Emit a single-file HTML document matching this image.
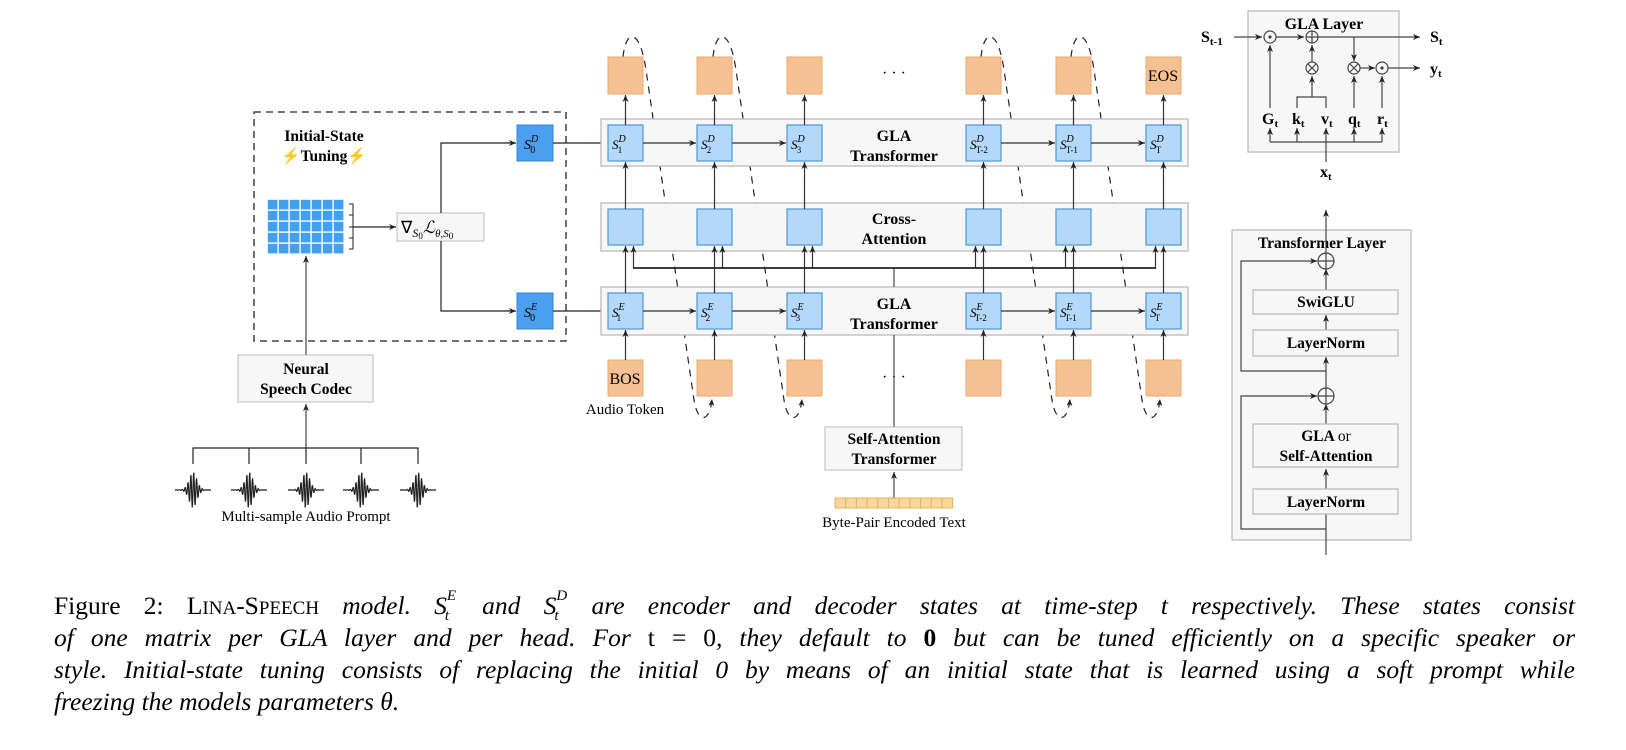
<!DOCTYPE html>
<html><head><meta charset="utf-8"><style>
body{margin:0;background:#fff;width:1626px;height:750px;overflow:hidden;position:relative}
svg{position:absolute;left:0;top:0}
.cap{position:absolute;left:54px;width:1521px;font-family:"Liberation Serif",serif;font-size:25.5px;line-height:32px;white-space:nowrap}
.cap div{text-align:justify;text-align-last:justify;height:32px;overflow:visible}
.cap div.last{text-align-last:left}
i{font-style:italic}
.sc{font-size:19px}
.ss{position:relative;display:inline-block;line-height:0}
.ss .u{position:absolute;left:100%;top:-10px;font-size:15px;margin-left:0px}
.ss .d{position:absolute;left:100%;top:10px;font-size:15px;margin-left:-2px}
.pad{display:inline-block;width:12px}
</style></head><body>
<svg width="1626" height="750" viewBox="0 0 1626 750" font-family="Liberation Serif, serif">
<defs>
<marker id="a" markerWidth="8" markerHeight="8" refX="7" refY="4" orient="auto" markerUnits="userSpaceOnUse"><path d="M0,1 L7,4 L0,7 L2,4z" fill="#222"/></marker>
</defs>
<g fill="none" stroke="#222" stroke-width="1.2" stroke-dasharray="7,6">
<path d="M623,57 C626,28 640,28 646,70 L694,400 C698,425 710,422 712,399" marker-end="url(#a)"/>
<path d="M713,57 C716,28 730,28 736,70 L784,400 C788,425 800,422 802,399" marker-end="url(#a)"/>
<path d="M981,57 C984,28 998,28 1004,70 L1052,400 C1056,425 1068,422 1070,399" marker-end="url(#a)"/>
<path d="M1071,57 C1074,28 1088,28 1094,70 L1142,400 C1146,425 1158,422 1160,399" marker-end="url(#a)"/>
</g>
<rect x="254" y="112" width="312" height="229" fill="none" stroke="#222" stroke-width="1.3" stroke-dasharray="7,5"/>
<text x="324" y="141" text-anchor="middle" font-size="15.5" font-weight="bold">Initial-State</text>
<text x="324" y="161" text-anchor="middle" font-size="15.5" font-weight="bold"><tspan fill="#f0a020">⚡</tspan>Tuning<tspan fill="#f0a020">⚡</tspan></text>
<rect x="267" y="199" width="77" height="55" fill="#fff"/>
<g fill="#42a0f0" id="grid"></g>
<path d="M349,204 H353 V249 H349 M349,215 H353 M349,227 H353 M349,238 H353" fill="none" stroke="#222" stroke-width="1"/>
<line x1="353" y1="227" x2="396" y2="227" stroke="#222" stroke-width="1.2" marker-end="url(#a)"/>
<rect x="397" y="213" width="87" height="28" fill="#f7f7f7" stroke="#bbb"/>
<text x="401" y="233" font-size="17">∇<tspan font-style="italic" font-size="12" dy="4">S</tspan><tspan font-size="9" dy="2">0</tspan><tspan font-size="17" dy="-6" font-style="italic">ℒ</tspan><tspan font-size="11" dy="4" font-style="italic">θ,S</tspan><tspan font-size="9" dy="2">0</tspan></text>
<path d="M441,213 V143 H516" fill="none" stroke="#222" stroke-width="1.2" marker-end="url(#a)"/>
<path d="M441,241 V311 H516" fill="none" stroke="#222" stroke-width="1.2" marker-end="url(#a)"/>
<rect x="517" y="125" width="36" height="36" fill="#4aa0ee" stroke="#2f86d6"/>
<rect x="517" y="293" width="36" height="36" fill="#4aa0ee" stroke="#2f86d6"/>
<text x="524" y="149" font-size="14" font-style="italic">S<tspan font-size="10" dy="-7">D</tspan><tspan font-size="10" dx="-8" dy="11" font-style="normal">0</tspan></text>
<text x="524" y="317" font-size="14" font-style="italic">S<tspan font-size="10" dy="-7">E</tspan><tspan font-size="10" dx="-7" dy="11" font-style="normal">0</tspan></text>
<line x1="553" y1="143" x2="607" y2="143" stroke="#222" stroke-width="1.2" marker-end="url(#a)"/>
<line x1="553" y1="311" x2="607" y2="311" stroke="#222" stroke-width="1.2" marker-end="url(#a)"/>
<line x1="306" y1="355" x2="306" y2="256" stroke="#444" stroke-width="1.2" marker-end="url(#a)"/>
<rect x="238" y="355" width="135" height="47" fill="#f7f7f7" stroke="#bbb"/>
<text x="306" y="374" text-anchor="middle" font-size="15.5" font-weight="bold">Neural</text>
<text x="306" y="394" text-anchor="middle" font-size="15.5" font-weight="bold">Speech Codec</text>
<line x1="306" y1="448" x2="306" y2="404" stroke="#444" stroke-width="1.2" marker-end="url(#a)"/>
<path d="M193,464 V448 H418 V464 M249,448 V464 M361,448 V464 M306,448 V464" fill="none" stroke="#222" stroke-width="1.2"/>
<g fill="none" stroke="#222" stroke-width="1.2" id="waves"></g>
<text x="306" y="521" text-anchor="middle" font-size="15">Multi-sample Audio Prompt</text>
<rect x="601" y="119" width="587" height="47" fill="#f7f7f7" stroke="#bbb" stroke-width="1.3"/>
<rect x="601" y="203" width="587" height="48" fill="#f7f7f7" stroke="#bbb" stroke-width="1.3"/>
<rect x="601" y="287" width="587" height="48" fill="#f7f7f7" stroke="#bbb" stroke-width="1.3"/>
<g font-size="16" font-weight="bold" text-anchor="middle">
<text x="894" y="141">GLA</text><text x="894" y="161">Transformer</text>
<text x="894" y="224">Cross-</text><text x="894" y="244">Attention</text>
<text x="894" y="309">GLA</text><text x="894" y="329">Transformer</text>
</g>
<text x="894" y="78" text-anchor="middle" font-size="16">· · ·</text>
<text x="894" y="382" text-anchor="middle" font-size="16">· · ·</text>
<g id="cols"></g>
<line x1="894" y1="287" x2="894" y2="268" stroke="#444" stroke-width="1.2"/>
<line x1="633" y1="268" x2="1156" y2="268" stroke="#222" stroke-width="1.8"/>
<line x1="894" y1="335" x2="894" y2="427" stroke="#444" stroke-width="1.2"/>
<rect x="825" y="427" width="137" height="43" fill="#f7f7f7" stroke="#bbb"/>
<text x="894" y="444" text-anchor="middle" font-size="15.5" font-weight="bold">Self-Attention</text>
<text x="894" y="464" text-anchor="middle" font-size="15.5" font-weight="bold">Transformer</text>
<line x1="894" y1="498" x2="894" y2="472" stroke="#444" stroke-width="1.2" marker-end="url(#a)"/>
<g id="bpe"></g>
<text x="894" y="527" text-anchor="middle" font-size="15">Byte-Pair Encoded Text</text>
<text x="625" y="414" text-anchor="middle" font-size="15">Audio Token</text>
<rect x="1248" y="11" width="151" height="141" fill="#f7f7f7" stroke="#bbb" stroke-width="1.3"/>
<g font-weight="bold" font-size="16">
<text x="1324" y="29" text-anchor="middle">GLA Layer</text>
<text x="1201" y="42">S<tspan font-size="11" dy="3">t-1</tspan></text>
<text x="1430" y="42">S<tspan font-size="11" dy="3">t</tspan></text>
<text x="1430" y="74">y<tspan font-size="11" dy="3">t</tspan></text>
<text x="1262" y="124">G<tspan font-size="11" dy="3">t</tspan></text>
<text x="1292" y="124">k<tspan font-size="11" dy="3">t</tspan></text>
<text x="1321" y="124">v<tspan font-size="11" dy="3">t</tspan></text>
<text x="1348" y="124">q<tspan font-size="11" dy="3">t</tspan></text>
<text x="1377" y="124">r<tspan font-size="11" dy="3">t</tspan></text>
<text x="1320" y="177">x<tspan font-size="11" dy="3">t</tspan></text>
</g>
<g stroke="#444" stroke-width="1.2" fill="none">
<line x1="1234" y1="37" x2="1262" y2="37" marker-end="url(#a)"/>
<line x1="1276" y1="37" x2="1304" y2="37" marker-end="url(#a)"/>
<line x1="1318" y1="37" x2="1420" y2="37" marker-end="url(#a)"/>
<line x1="1354" y1="37" x2="1354" y2="61" marker-end="url(#a)"/>
<line x1="1360" y1="68" x2="1375" y2="68" marker-end="url(#a)"/>
<line x1="1388" y1="68" x2="1420" y2="68" marker-end="url(#a)"/>
<line x1="1312" y1="62" x2="1312" y2="45" marker-end="url(#a)"/>
<line x1="1270" y1="108" x2="1270" y2="45" marker-end="url(#a)"/>
<path d="M1297,108 V97 H1326 V108 M1312,97 V76" marker-end="url(#a)"/>
<line x1="1354" y1="108" x2="1354" y2="76" marker-end="url(#a)"/>
<line x1="1382" y1="108" x2="1382" y2="76" marker-end="url(#a)"/>
<path d="M1326,162 V142"/>
<path d="M1270,142 H1382"/>
<line x1="1270" y1="142" x2="1270" y2="128" marker-end="url(#a)"/>
<line x1="1297" y1="142" x2="1297" y2="128" marker-end="url(#a)"/>
<line x1="1326" y1="142" x2="1326" y2="128" marker-end="url(#a)"/>
<line x1="1354" y1="142" x2="1354" y2="128" marker-end="url(#a)"/>
<line x1="1382" y1="142" x2="1382" y2="128" marker-end="url(#a)"/>
<circle cx="1270" cy="37" r="6" fill="#f7f7f7"/><circle cx="1270" cy="37" r="1" fill="#444"/>
<circle cx="1312" cy="37" r="6" fill="#f7f7f7"/><path d="M1306,37 H1318 M1312,31 V43"/>
<circle cx="1312" cy="68" r="6" fill="#f7f7f7"/><path d="M1308,64 L1316,72 M1316,64 L1308,72"/>
<circle cx="1354" cy="68" r="6" fill="#f7f7f7"/><path d="M1350,64 L1358,72 M1358,64 L1350,72"/>
<circle cx="1382" cy="68" r="6" fill="#f7f7f7"/><circle cx="1382" cy="68" r="1" fill="#444"/>
</g>
<rect x="1232" y="230" width="179" height="310" fill="#f7f7f7" stroke="#bbb" stroke-width="1.3"/>
<text x="1322" y="248" text-anchor="middle" font-size="15.5" font-weight="bold">Transformer Layer</text>
<g stroke="#444" stroke-width="1.2" fill="none">
<line x1="1326" y1="555" x2="1326" y2="514"/>
<line x1="1326" y1="489" x2="1326" y2="469" marker-end="url(#a)"/>
<line x1="1326" y1="424" x2="1326" y2="404" marker-end="url(#a)"/>
<line x1="1326" y1="388" x2="1326" y2="357" marker-end="url(#a)"/>
<line x1="1326" y1="330" x2="1326" y2="315" marker-end="url(#a)"/>
<line x1="1326" y1="290" x2="1326" y2="269" marker-end="url(#a)"/>
<line x1="1326" y1="253" x2="1326" y2="210" marker-end="url(#a)"/>
<path d="M1326,529 H1241 V396 H1317" marker-end="url(#a)"/>
<path d="M1326,371 H1241 V261 H1317" marker-end="url(#a)"/>
<circle cx="1326" cy="261" r="8" fill="#f7f7f7"/><path d="M1318,261 H1334 M1326,253 V269"/>
<circle cx="1326" cy="396" r="8" fill="#f7f7f7"/><path d="M1318,396 H1334 M1326,388 V404"/>
</g>
<g fill="#f7f7f7" stroke="#bbb" stroke-width="1.3">
<rect x="1253" y="290" width="145" height="24"/>
<rect x="1253" y="330" width="145" height="26"/>
<rect x="1253" y="424" width="145" height="43"/>
<rect x="1253" y="489" width="145" height="25"/>
</g>
<g font-size="15.5" font-weight="bold" text-anchor="middle">
<text x="1326" y="307">SwiGLU</text>
<text x="1326" y="348">LayerNorm</text>
<text x="1326" y="441">GLA <tspan font-weight="normal">or</tspan></text>
<text x="1326" y="461">Self-Attention</text>
<text x="1326" y="507">LayerNorm</text>
</g>
</svg>
<div class="cap" style="top:590px">
<div>Figure 2: L<span class="sc">INA</span>-S<span class="sc">PEECH</span> <i>model. <span class="ss">S<span class="u">E</span><span class="d">t</span></span><span class="pad"></span> and <span class="ss">S<span class="u">D</span><span class="d">t</span></span><span class="pad"></span> are encoder and decoder states at time-step t respectively. These states consist</i></div>
<div><i>of one matrix per GLA layer and per head. For </i>t = 0<i>, they default to </i><b>0</b><i> but can be tuned efficiently on a specific speaker or</i></div>
<div><i>style. Initial-state tuning consists of replacing the initial 0 by means of an initial state that is learned using a soft prompt while</i></div>
<div class="last"><i>freezing the models parameters θ.</i></div>
</div>
<script>
var NS="http://www.w3.org/2000/svg";
function el(p,t,a,txt){var e=document.createElementNS(NS,t);for(var k in a)e.setAttribute(k,a[k]);if(txt!==undefined)e.textContent=txt;p.appendChild(e);return e;}
var g=document.getElementById('grid');
for(var r=0;r<5;r++)for(var c=0;c<7;c++)el(g,'rect',{x:267+c*11+0.8,y:199+r*11+0.8,width:9.6,height:9.6});
var w=document.getElementById('waves');
[193,249,306,361,418].forEach(function(cx){var d="";for(var i=0;i<=90;i++){var t=-18+i*0.4;var amp=17*Math.exp(-t*t/30)+1.2*Math.exp(-Math.abs(t)/6);var y=490-amp*Math.sin(t*2.2);d+=(i?" L":"M")+(cx+t).toFixed(1)+","+y.toFixed(1);}el(w,'path',{d:d});});
var b=document.getElementById('bpe');
for(var i=0;i<11;i++)el(b,'rect',{x:835+i*10.7,y:498,width:10.7,height:10,fill:'#fbd89a',stroke:'#e2b35a','stroke-width':1});
var cols=document.getElementById('cols');
var L=[608,697,787,966,1056,1146],subs=['1','2','3','T-2','T-1','T'];
function arrow(x1,y1,x2,y2){el(cols,'line',{x1:x1,y1:y1,x2:x2,y2:y2,stroke:'#333','stroke-width':1.2,'marker-end':'url(#a)'});}
L.forEach(function(l,i){var c=l+17.5;
 el(cols,'rect',{x:l,y:57,width:35,height:37,fill:'#f5c193',stroke:'#eaa96e'});
 el(cols,'rect',{x:l,y:360,width:35,height:36,fill:'#f5c193',stroke:'#eaa96e'});
 [125,209,293].forEach(function(y){el(cols,'rect',{x:l,y:y,width:35,height:36,fill:'#b3d8fa',stroke:'#4a9ad8','stroke-width':1.2});});
 arrow(c,125,c,95);arrow(c,209,c,162);arrow(c,293,c,246);arrow(c,360,c,330);
 var o=i<3?8:-8;arrow(c+o,268,c+o,246);
 if(i<5&&i!=2){arrow(l+35,143,L[i+1]-1,143);arrow(l+35,311,L[i+1]-1,311);}
 ['D','E'].forEach(function(s,k){var y=k?317:149;var t=el(cols,'text',{x:l+4,y:y,'font-size':13,'font-style':'italic'});
  el(t,'tspan',{},'S');el(t,'tspan',{'font-size':10,dy:-7},s);el(t,'tspan',{'font-size':9,dx:-8,dy:11,'font-style':'normal'},subs[i]);});
});
el(cols,'text',{x:625,y:384,'text-anchor':'middle','font-size':16},'BOS');
el(cols,'text',{x:1163,y:81,'text-anchor':'middle','font-size':16},'EOS');
</script>
</body></html>
